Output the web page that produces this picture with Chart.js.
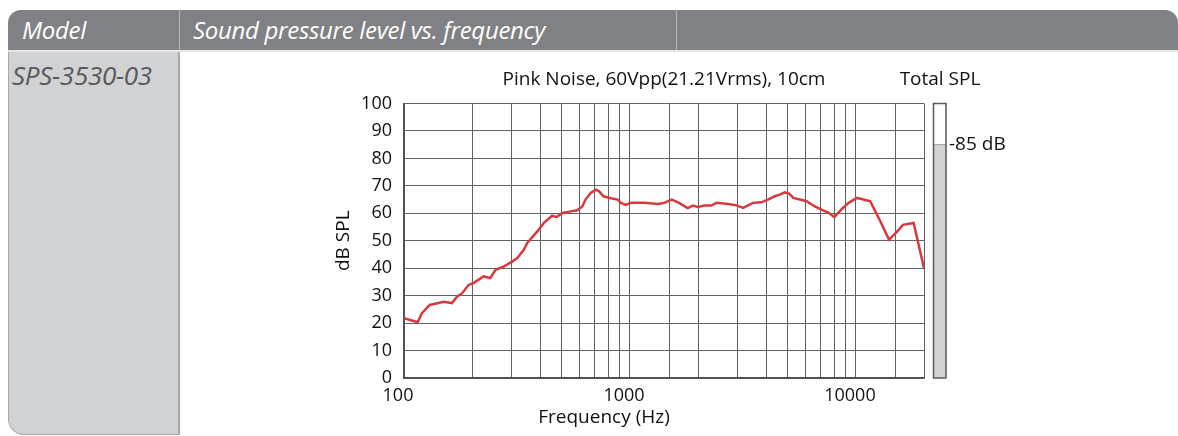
<!DOCTYPE html>
<html>
<head>
<meta charset="utf-8">
<script src="https://cdn.jsdelivr.net/npm/chart.js@4"></script>
<style>
	body { margin: 0; width: 1178px; height: 436px; background: #fff; overflow: hidden; position: relative; font-family: 'Open Sans', sans-serif; }
	.header { position: absolute; left: 8px; top: 10px; width: 1170px; height: 40px; background: #808184; border-radius: 13px 13px 0 0; border-bottom: 2px solid #e6e6e7; }
	.header span { position: absolute; top: 3px; color: #fff; font-style: italic; font-size: 24px; letter-spacing: -0.3px; }
	.divider { position: absolute; top: 0; width: 1px; height: 40px; background: #b4b5b7; }
	.model { position: absolute; left: 8px; top: 52px; width: 169px; height: 382px; background: #d1d2d4; border-left: 1px solid #a7a8aa; border-right: 2px solid #a7a8aa; border-bottom: 1px solid #a7a8aa; border-radius: 0 0 0 16px; }
	.model span { position: absolute; left: 3px; top: 5px; color: #58595b; font-style: italic; font-size: 26px; letter-spacing: -0.3px; }
	#spl { position: absolute; left: 180px; top: 52px; }
</style>
</head>
<body>
	<div class="header">
		<span style="left: 14px;">Model</span>
		<div class="divider" style="left: 171px;"></div>
		<span style="left: 185px;">Sound pressure level vs. frequency</span>
		<div class="divider" style="left: 668px;"></div>
	</div>
	<div class="model"><span>SPS-3530-03</span></div>
	<canvas id="spl" width="998" height="384"></canvas>
<script>
// Frequenze (Hz) e livelli (dB SPL)
const freqHz = [100, 115, 120, 130, 150, 163, 172, 181, 193, 203, 225, 241, 254, 276, 301, 317, 339, 351, 389, 416,
	452, 473, 502, 548, 585, 615, 636, 670, 706, 730, 763, 822, 882, 912, 959, 1009, 1160, 1330, 1420, 1530,
	1650, 1800, 1900, 1995, 2135, 2290, 2410, 2720, 2960, 3170, 3500, 3810, 4080, 4370, 4600, 4840, 5060, 5280, 5650, 6050,
	6580, 7040, 7540, 8020, 8670, 9280, 10100, 10800, 11570, 12180, 12830, 14000, 14980, 16150, 18000, 20000];
const splDb = [21.8, 20.3, 23.6, 26.6, 27.8, 27.3, 29.7, 30.9, 33.9, 34.6, 37, 36.4, 39.4, 40.6, 42.4, 43.7, 46.7, 49.2, 53.4, 56.5,
	59.1, 58.6, 60.1, 60.7, 61.1, 62.5, 65, 67.4, 68.6, 68, 66.2, 65.5, 65, 63.8, 63.1, 63.8, 63.8, 63.4, 63.8, 65,
	63.8, 61.9, 62.8, 62.3, 62.8, 62.8, 63.8, 63.4, 62.9, 62, 63.8, 64, 65, 66.2, 66.8, 67.6, 67.2, 65.6, 65, 64.4,
	62.5, 61.3, 60.3, 58.6, 61.6, 63.8, 65.6, 65, 64.4, 60.7, 57, 50.4, 52.8, 55.8, 56.5, 40];
const xTickLabels = [100, 1000, 10000];
const totalSpl = 85;
const chartTitle = 'Pink Noise, 60Vpp(21.21Vrms), 10cm';

const textFont = "19px 'Open Sans', sans-serif";

// Titolo, barra "Total SPL" e titolo asse x disegnati sopra il grafico
const extras = {
	id: 'extras',
	afterDraw(chart) {
		const ctx = chart.ctx;
		const area = chart.chartArea;
		const y = chart.scales.y;
		ctx.save();
		ctx.fillStyle = '#111';
		ctx.font = textFont;
		ctx.textBaseline = 'middle';
		ctx.textAlign = 'center';
		ctx.fillText(chartTitle, (area.left + area.right) / 2, 28);
		ctx.fillText('Total SPL', area.right + 16, 28);
		ctx.fillText('Frequency (Hz)', area.left + 200, 366);

		// barra del livello totale
		const bx = area.right + 9.5, bw = 12.5;
		const top = y.getPixelForValue(100), bottom = y.getPixelForValue(0), level = y.getPixelForValue(totalSpl);
		ctx.fillStyle = '#fdfdfd';
		ctx.fillRect(bx, top, bw, level - top);
		ctx.fillStyle = '#d2d3d5';
		ctx.fillRect(bx, level, bw, bottom - level);
		ctx.strokeStyle = '#9a9b9d';
		ctx.lineWidth = 1;
		ctx.beginPath();
		ctx.moveTo(bx, level);
		ctx.lineTo(bx + bw, level);
		ctx.stroke();
		ctx.strokeStyle = '#58595b';
		ctx.lineWidth = 1.5;
		ctx.strokeRect(bx, top, bw, bottom - top);
		ctx.fillStyle = '#111';
		ctx.textAlign = 'left';
		ctx.fillText('-' + totalSpl + ' dB', bx + bw + 3, level);
		ctx.restore();
	}
};

const chart = new Chart(document.getElementById('spl'), {
	type: 'line',
	data: {
		datasets: [{
			data: freqHz.map((f, i) => ({ x: f, y: splDb[i] })),
			borderColor: '#d8393e',
			borderWidth: 2.5,
			pointRadius: 0,
			tension: 0
		}]
	},
	options: {
		responsive: false,
		animation: false,
		layout: { padding: { left: 148, right: 254, top: 51.5, bottom: 6 } },
		plugins: { legend: { display: false }, tooltip: { enabled: false } },
		scales: {
			x: {
				type: 'logarithmic',
				min: 100,
				max: 20000,
				afterFit: s => { s.height = 52; },
				grid: { color: '#606163', lineWidth: 1, drawTicks: false },
				border: { color: '#4d4d4f', width: 1.5 },
				ticks: {
					autoSkip: false,
					maxRotation: 0,
					padding: 7,
					labelOffset: -6,
					color: '#111',
					font: { family: 'Open Sans', size: 18 },
					callback: v => xTickLabels.includes(v) ? String(v) : ''
				}
			},
			y: {
				min: 0,
				max: 100,
				afterFit: s => { s.width = 76; },
				grid: { color: '#606163', lineWidth: 1, drawTicks: false },
				border: { color: '#4d4d4f', width: 1.5 },
				ticks: {
					stepSize: 10,
					padding: 12,
					color: '#111',
					font: { family: 'Open Sans', size: 18 }
				},
				title: {
					display: true,
					text: 'dB SPL',
					color: '#111',
					font: { family: 'Open Sans', size: 19 }
				}
			}
		}
	},
	plugins: [extras]
});
</script>
</body>
</html>
